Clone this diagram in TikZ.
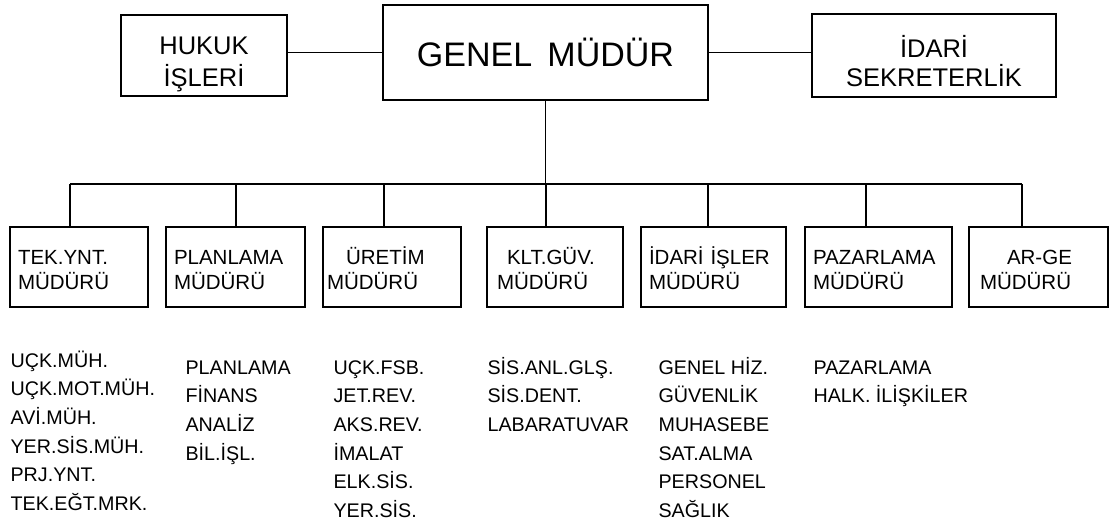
\documentclass[tikz,border=0pt]{standalone}
\usepackage{fontspec}
\setmainfont{Liberation Sans}

\begin{document}
\begin{tikzpicture}[
    x=1pt, y=-1pt,
    line width=1.2pt,
    ustkutu/.style={draw, align=center, inner sep=0pt},
    mudur/.style={draw, align=left, inner xsep=8pt, inner ysep=0pt,
        minimum height=80pt, font=\fontsize{20.5}{25}\selectfont,
        execute at begin node=\rule{0pt}{21pt}},
    liste/.style={anchor=base west, align=left, inner sep=0pt,
        font=\fontsize{19.7}{28.7}\selectfont}
]
    \useasboundingbox (0,0) rectangle (1111,522);

    % --- Top row ---
    \node[ustkutu, minimum width=166pt, minimum height=81pt, font=\fontsize{25.5}{32}\selectfont]
        (hukuk) at (204,55.5) {\rule{0pt}{35pt}HUKUK\\İŞLERİ\rule[-6pt]{0pt}{6pt}};
    \node[draw, inner sep=0pt, minimum width=325pt, minimum height=95pt,
          font=\fontsize{34}{40}\selectfont] (genel) at (545.5,52.5) {\rule{0pt}{28pt}GENEL\hspace{0.45em}MÜDÜR};
    \node[ustkutu, minimum width=244pt, minimum height=83pt, font=\fontsize{25.5}{29}\selectfont]
        (sekreter) at (934,55.5) {\rule{0pt}{38pt}İDARİ\\SEKRETERLİK\rule[-6pt]{0pt}{6pt}};

    \draw (hukuk.east |- genel.west) -- (genel.west);
    \draw (genel.east) -- (genel.east -| sekreter.west);

    % --- Directors ---
    \node[mudur, text width=122pt] (tek) at (79,267) {TEK.YNT.\\MÜDÜRÜ};
    \node[mudur, text width=123pt] (plan) at (235.5,267) {PLANLAMA\\MÜDÜRÜ};
    \node[mudur, text width=122pt] (uretim) at (392,267) {\hspace*{15pt}ÜRETİM\\\hspace*{-4pt}MÜDÜRÜ};
    \node[mudur, text width=120pt] (klt) at (555,267) {\hspace*{12pt}KLT.GÜV.\\\hspace*{2pt}MÜDÜRÜ};
    \node[mudur, text width=129pt] (idari) at (713.5,267) {İDARİ İŞLER\\MÜDÜRÜ};
    \node[mudur, text width=131pt] (pazar) at (878.5,267) {PAZARLAMA\\MÜDÜRÜ};
    \node[mudur, text width=123pt] (arge) at (1038.5,267) {\hspace*{30pt}AR-GE\\\hspace*{3pt}MÜDÜRÜ};

    % --- Bus ---
    \coordinate (d1) at (70,184);
    \coordinate (d2) at (236,184);
    \coordinate (d3) at (384,184);
    \coordinate (d4) at (546,184);
    \coordinate (d5) at (708,184);
    \coordinate (d6) at (866,184);
    \coordinate (d7) at (1022,184);

    \draw (genel.south) -- (genel.south |- d4);
    \draw (d1) -- (d7);
    \foreach \d/\k in {d1/tek, d2/plan, d3/uretim, d4/klt, d5/idari, d6/pazar, d7/arge}
        \draw (\d) -- (\d |- \k.north);

    % --- Units (base = last line) ---
    \node[liste] (tekalt) at (10,510.5) {UÇK.MÜH.\\UÇK.MOT.MÜH.\\AVİ.MÜH.\\YER.SİS.MÜH.\\PRJ.YNT.\\TEK.EĞT.MRK.};
    \node[liste] (planalt) at (185,460.1) {PLANLAMA\\FİNANS\\ANALİZ\\BİL.İŞL.};
    \node[liste] (uretimalt) at (333,517.5) {UÇK.FSB.\\JET.REV.\\AKS.REV.\\İMALAT\\ELK.SİS.\\YER.SİS.};
    \node[liste] (kltalt) at (487,431.4) {SİS.ANL.GLŞ.\\SİS.DENT.\\LABARATUVAR};
    \node[liste] (idarialt) at (658,517.5) {GENEL HİZ.\\GÜVENLİK\\MUHASEBE\\SAT.ALMA\\PERSONEL\\SAĞLIK};
    \node[liste] (pazaralt) at (813,402.7) {PAZARLAMA\\HALK. İLİŞKİLER};

\end{tikzpicture}
\end{document}
